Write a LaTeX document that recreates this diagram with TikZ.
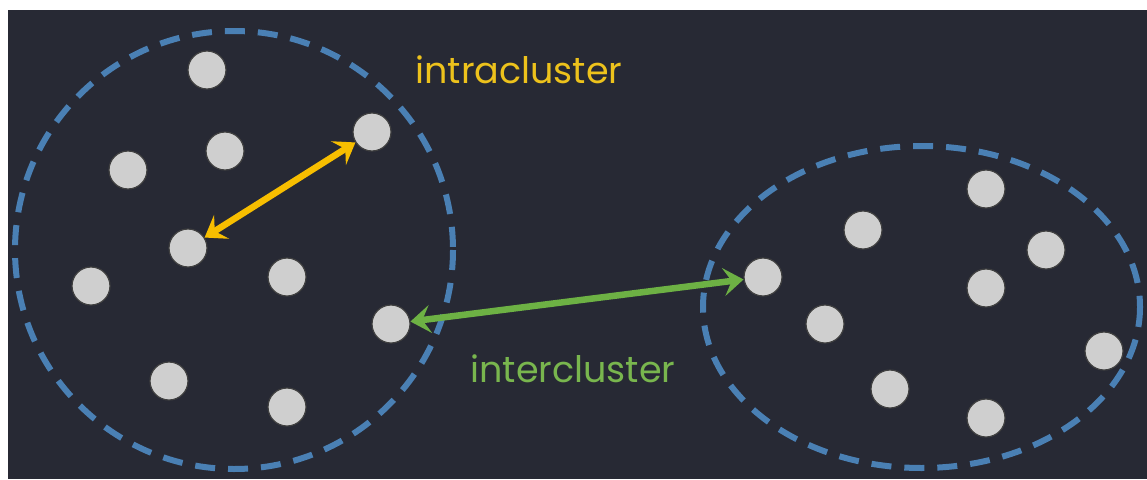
\documentclass[tikz,border=0pt]{standalone}
\usepackage{fontspec}
\setmainfont{Poppins}
\usetikzlibrary{arrows.meta}
\definecolor{bgdark}{HTML}{272934}
\definecolor{clblue}{HTML}{4A80B4}
\definecolor{dotgray}{HTML}{CFCFCF}
\definecolor{intrayellow}{HTML}{F7BE00}
\definecolor{intergreen}{HTML}{6DB144}
\definecolor{intratext}{HTML}{EDC21C}
\definecolor{intertext}{HTML}{79B64E}
\tikzset{
  pt/.style={circle,fill=dotgray,draw=black!75,line width=1.2pt,minimum size=38pt,inner sep=0pt},
  clusterline/.style={draw=clblue,line width=6pt,dash pattern=on 20pt off 13pt},
  conn/.style={line width=6.5pt,{Stealth[length=20pt,width=28pt,inset=8pt]}-{Stealth[length=20pt,width=28pt,inset=8pt]}},
  lbl/.style={font=\fontsize{36.5}{42}\selectfont,inner sep=0pt}
}
\begin{document}
\begin{tikzpicture}[x=1pt,y=-1pt]
\useasboundingbox (0,0) rectangle (1147,479);
\fill[white] (0,0) rectangle (1147,479);
\fill[bgdark] (8,10) rectangle (1147,479);
% clusters
\draw[clusterline] (234,250) ellipse [x radius=219,y radius=219];
\draw[clusterline] (921.5,307) ellipse [x radius=218.5,y radius=161];
% left cluster points
\node[pt] (a1) at (207,70) {};
\node[pt] (a2) at (372,132) {};
\node[pt] (a3) at (128,170) {};
\node[pt] (a4) at (225,151) {};
\node[pt] (a5) at (188,248) {};
\node[pt] (a6) at (91,286) {};
\node[pt] (a7) at (287,277) {};
\node[pt] (a8) at (391,324) {};
\node[pt] (a9) at (169,381) {};
\node[pt] (a10) at (287,407) {};
% right cluster points
\node[pt] (b1) at (986,189) {};
\node[pt] (b2) at (863,230) {};
\node[pt] (b3) at (1046,250) {};
\node[pt] (b4) at (763,277) {};
\node[pt] (b5) at (986,288) {};
\node[pt] (b6) at (825,324) {};
\node[pt] (b7) at (1104,351) {};
\node[pt] (b8) at (890,389) {};
\node[pt] (b9) at (986,418) {};
% connectors
\draw[conn,draw=intrayellow,fill=intrayellow] (a5) -- (a2);
\draw[conn,draw=intergreen,fill=intergreen] (a8) -- (b4);
% labels
\node[lbl,text=intratext] (intra) at (519,70) {intracluster};
\node[lbl,text=intertext] (inter) at (573,369) {intercluster};
\end{tikzpicture}
\end{document}
